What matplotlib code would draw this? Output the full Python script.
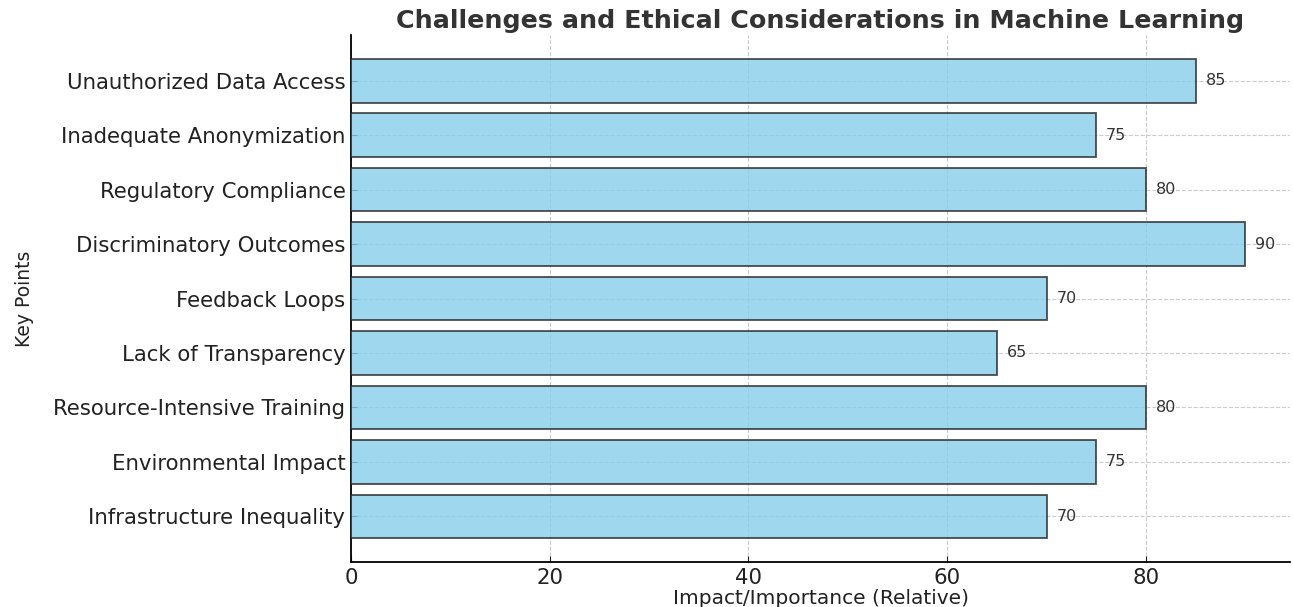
import matplotlib
matplotlib.use("Agg")
import matplotlib.pyplot as plt

categories = [
    "Unauthorized Data Access",
    "Inadequate Anonymization",
    "Regulatory Compliance",
    "Discriminatory Outcomes",
    "Feedback Loops",
    "Lack of Transparency",
    "Resource-Intensive Training",
    "Environmental Impact",
    "Infrastructure Inequality",
]
values = [85, 75, 80, 90, 70, 65, 80, 75, 70]
xticks = [0, 20, 40, 60, 80]

plt.rcParams['font.family'] = ['DejaVu Sans']

fig = plt.figure(figsize=(12.93, 6.07), dpi=100)
ax = fig.add_axes([0.2715, 0.0741, 0.7262, 0.8682])

# plot reversed so first category is at top
cats_r = categories[::-1]
vals_r = values[::-1]
bars = ax.barh(cats_r, vals_r, color='skyblue', alpha=0.8, edgecolor='#222222', linewidth=1.3, zorder=3)
for b, v in zip(bars, vals_r):
    ax.text(b.get_width() + 1, b.get_y() + b.get_height() / 2, f"{v}",
            va='center', ha='left', fontsize=11.5, color='#333333', zorder=4)

ax.set_xticks(xticks)
ax.grid(True, linestyle='--', color='#cccccc', linewidth=0.8, zorder=0)
ax.spines['top'].set_visible(False)
ax.spines['right'].set_visible(False)
ax.spines['left'].set_linewidth(1.3)
ax.spines['bottom'].set_linewidth(1.3)
ax.tick_params(axis='both', labelsize=15.3, colors='#222222', length=4, direction='in', pad=4)
ax.set_title("Challenges and Ethical Considerations in Machine Learning",
             fontsize=18.3, fontweight='bold', color='#333333', pad=5)
ax.set_xlabel("Impact/Importance (Relative)", fontsize=14.5, color='#222222', labelpad=1)
ax.set_ylabel("Key Points", fontsize=13.5, color='#222222')
ax.yaxis.set_label_coords(-0.338, 0.5)

fig.savefig("out.png", dpi=100)
